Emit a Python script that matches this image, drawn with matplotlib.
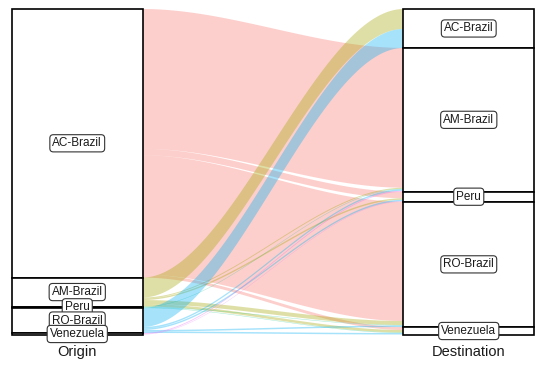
import numpy as np
import matplotlib
matplotlib.use("Agg")
import matplotlib.pyplot as plt
from matplotlib.patches import Polygon, Rectangle

plt.rcParams['font.family'] = ['Liberation Sans', 'DejaVu Sans']

# strata (same order on both axes, top to bottom)
places = ["AC-Brazil", "AM-Brazil", "Peru", "RO-Brazil", "Venezuela"]
fills = ["#F8766D", "#A3A500", "#00BF7D", "#00B0F6", "#E76BF3"]
axis_names = ["Origin", "Destination"]

# flows, one row per origin, columns = destination (same order as places)
from_ac = [0, 140, 6.5, 119.5, 3]
from_am = [20, 1, 1.5, 4, 2.5]
from_peru = [0, 0.5, 0, 0.5, 0.5]
from_ro = [19, 1.5, 1.5, 1.5, 1.5]
from_ven = [0, 1, 0.5, 0, 0.5]

flows = np.array([from_ac, from_am, from_peru, from_ro, from_ven])
n = len(places)
total = flows.sum()
W = 1 / 6  # half stratum width

fig = plt.figure(figsize=(5.5, 3.66), dpi=100)
ax = fig.add_axes([0, 0, 1, 1])
pxu = 522 / (4 / 3)
ax.set_xlim(5 / 6 - 12 / pxu, 13 / 6 + 16 / pxu)
sc = 326 / total
ax.set_ylim(-31 / sc, total + 9 / sc)
ax.axis("off")

# tops of each stratum (y grows upward, so start at total)
left_h = flows.sum(axis=1)
right_h = flows.sum(axis=0)
left_top = total - np.concatenate([[0], np.cumsum(left_h)[:-1]])
right_top = total - np.concatenate([[0], np.cumsum(right_h)[:-1]])

# position of each lode inside its stratum
lpos = np.zeros((n, n))
rpos = np.zeros((n, n))
for i in range(n):
    c = left_top[i]
    for j in range(n):
        lpos[i, j] = c
        c -= flows[i, j]
for j in range(n):
    c = right_top[j]
    for i in range(n):
        rpos[i, j] = c
        c -= flows[i, j]

t = np.linspace(0, 1, 80)
s = t * t * (3 - 2 * t)
xs = np.concatenate([[1], 1 + W + (1 - 2 * W) * t, [2]])

for i in range(n):
    for j in range(n):
        w = flows[i, j]
        if w <= 0:
            continue
        ya, yb = lpos[i, j], rpos[i, j]
        top = np.concatenate([[ya], ya + (yb - ya) * s, [yb]])
        bot = top - w
        pts = np.column_stack([np.concatenate([xs, xs[::-1]]),
                               np.concatenate([top, bot[::-1]])])
        ax.add_patch(Polygon(pts, closed=True, fc=fills[i], alpha=0.35, lw=0))

# strata boxes and labels
for k, (x, tops, hs) in enumerate([(1, left_top, left_h), (2, right_top, right_h)]):
    for i in range(n):
        ax.add_patch(Rectangle((x - W, tops[i] - hs[i]), 2 * W, hs[i],
                               fc="white", ec="black", lw=1.2, zorder=3))
    for i in range(n):
        ax.text(x, tops[i] - hs[i] / 2, places[i], ha="center", va="center",
                fontsize=8.5, color="#1a1a1a", zorder=5,
                bbox=dict(boxstyle="round,pad=0.22,rounding_size=0.3",
                          fc="white", ec="#333333", lw=0.8))
    ax.text(x, -17 / sc, axis_names[k], ha="center", va="center",
            fontsize=10.5, color="#1a1a1a")

fig.savefig("out.png", dpi=100)
